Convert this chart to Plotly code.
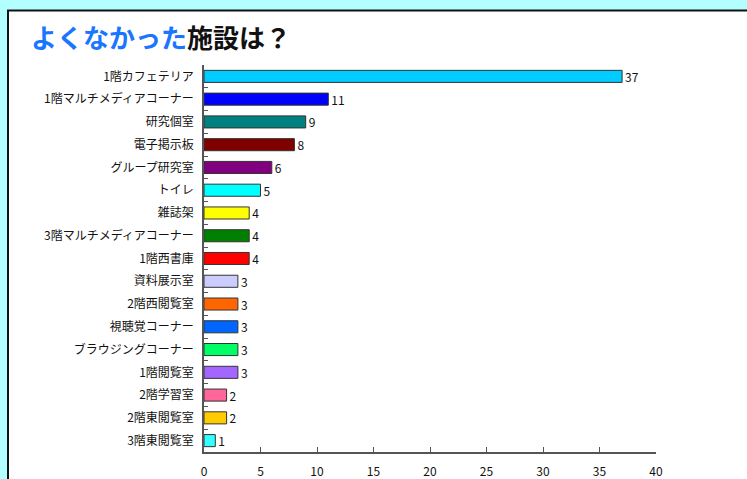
import plotly.graph_objects as go

categories = ["1階カフェテリア", "1階マルチメディアコーナー", "研究個室", "電子掲示板", "グループ研究室",
              "トイレ", "雑誌架", "3階マルチメディアコーナー", "1階西書庫", "資料展示室", "2階西閲覧室",
              "視聴覚コーナー", "ブラウジングコーナー", "1階閲覧室", "2階学習室", "2階東閲覧室", "3階東閲覧室"]
values = [37, 11, 9, 8, 6, 5, 4, 4, 4, 3, 3, 3, 3, 3, 2, 2, 1]
colors = ["#00ccff", "#0000ff", "#008080", "#800000", "#800080", "#00ffff", "#ffff00", "#008000",
          "#ff0000", "#ccccff", "#ff6600", "#0066ff", "#00ff66", "#a366ff", "#ff6699", "#ffcc00", "#33ffff"]
x_ticks = [0, 5, 10, 15, 20, 25, 30, 35, 40]

FONT = "Noto Sans CJK JP"

fig = go.Figure(go.Bar(
    x=values, y=categories, orientation="h",
    marker=dict(color=colors, line=dict(color="#333333", width=1)),
    text=[str(v) for v in values], textposition="outside", constraintext="none",
    textfont=dict(family=FONT, size=12, color="#111111"),
    cliponaxis=False, width=0.53,
))

L, R = 204, 656
T, B = 64.6, 452.4
W, H = 747, 479
pw, ph = R - L, B - T

def px(x):
    return (x - L) / pw

def py(y):
    return (B - y) / ph

fig.update_layout(
    width=W, height=H,
    margin=dict(l=L, r=W - R, t=T, b=H - B, pad=0),
    paper_bgcolor="#b3ffff", plot_bgcolor="white",
    showlegend=False,
    font=dict(family=FONT, size=12, color="#111111"),
    shapes=[dict(type="rect", xref="paper", yref="paper",
                 x0=px(8), x1=px(800), y0=py(520), y1=py(10),
                 fillcolor="white", line=dict(color="#111111", width=2), layer="below")],
    annotations=[dict(xref="paper", yref="paper", x=px(29), y=py(36),
                      xanchor="left", yanchor="middle", showarrow=False,
                      text="<b><span style='color:#1a75ff'>よくなかった</span>施設は？</b>",
                      font=dict(family=FONT, size=26, color="#111111"))],
)
fig.update_xaxes(range=[0, 40], tickvals=x_ticks, ticktext=[str(t) for t in x_ticks],
                 automargin=False,
                 showgrid=False, zeroline=False, showline=True, linecolor="#555555", linewidth=1.5,
                 ticks="inside", ticklen=5, tickcolor="#555555", ticklabelstandoff=8,
                 tickfont=dict(family=FONT, size=12, color="#111111"))
fig.update_yaxes(categoryorder="array", categoryarray=categories, range=[16.5, -0.5],
                 automargin=False,
                 showgrid=False, zeroline=False, showline=True, linecolor="#555555", linewidth=1.5,
                 ticks="inside", ticklen=4, tickcolor="#555555", tickson="boundaries",
                 ticklabelstandoff=6, tickfont=dict(family=FONT, size=12, color="#111111"))

fig.write_html("out.html", config={"displayModeBar": False},
               post_script="document.body.style.margin='0';document.body.style.overflow='hidden';")
